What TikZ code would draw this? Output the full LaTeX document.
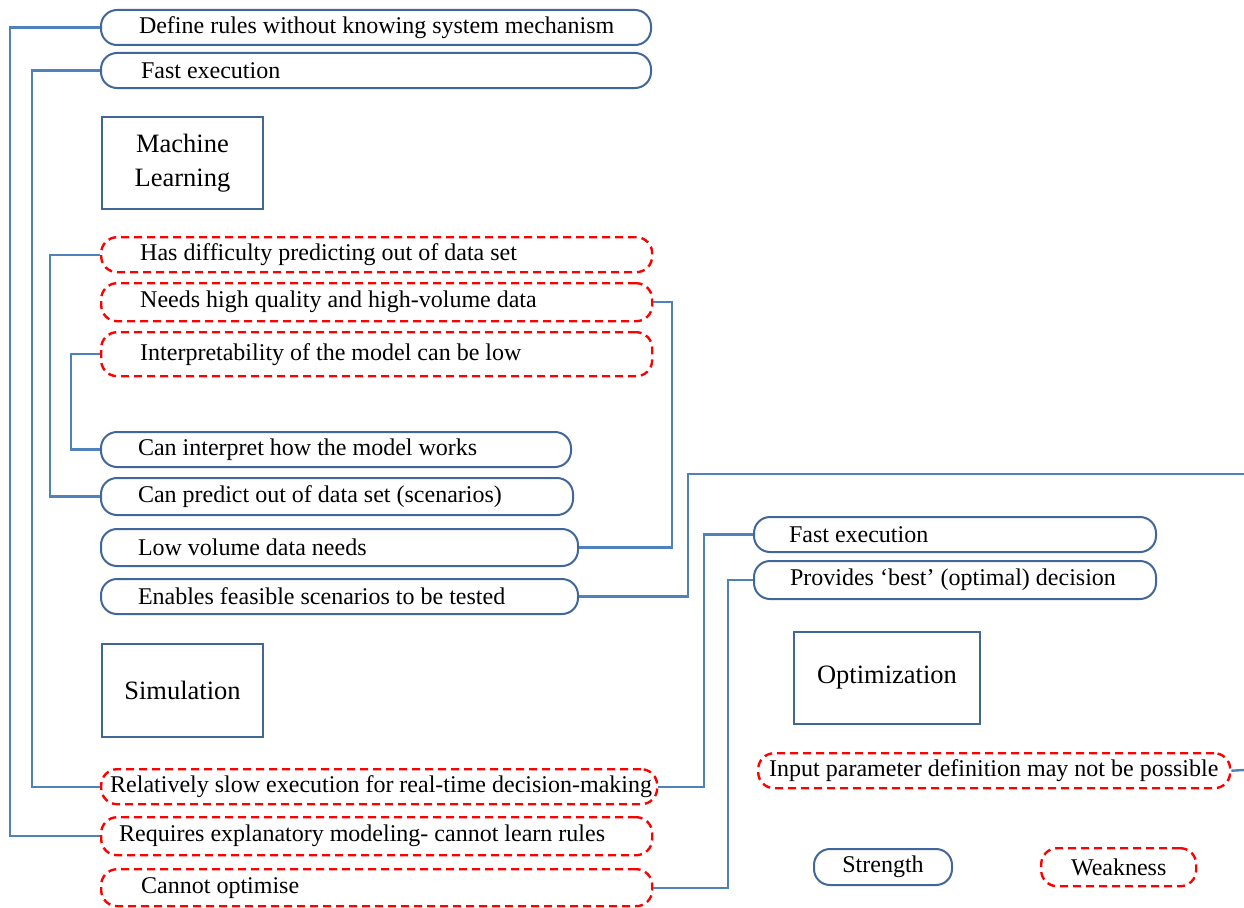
\documentclass[tikz,border=0pt]{standalone}
\usepackage{fontspec}
\setmainfont{Liberation Serif}
\definecolor{boxblue}{RGB}{65,102,154}
\definecolor{linkblue}{RGB}{79,129,189}
\definecolor{weakred}{RGB}{255,0,0}
\begin{document}
\begin{tikzpicture}[x=1pt,y=-1pt,
  strong/.style={draw=boxblue,line width=2pt,rounded corners=16pt,anchor=north west,inner ysep=0pt,font=\fontsize{24}{26}\selectfont},
  weak/.style={draw=weakred,line width=2.4pt,dash pattern=on 8pt off 5pt,rounded corners=16pt,anchor=north west,inner ysep=0pt,font=\fontsize{24}{26}\selectfont},
  head/.style={draw=boxblue,line width=2pt,anchor=north west,align=center,inner sep=0pt,font=\fontsize{26.5}{34}\selectfont},
  link/.style={draw=linkblue,line width=2.4pt}]
\useasboundingbox (0,0) rectangle (1244,907);
% Machine learning side
\node[strong,minimum width=550pt,minimum height=35pt,inner xsep=38pt] (def) at (100,9) {\makebox[474pt][l]{Define rules without knowing system mechanism}};
\node[strong,minimum width=550pt,minimum height=35pt,inner xsep=40pt] (fe1) at (100,52) {\makebox[470pt][l]{Fast execution}};
\node[head,minimum width=161pt,minimum height=92pt] (ml) at (101,116) {Machine\\Learning};
\node[weak,minimum width=551pt,minimum height=35pt,inner xsep=39pt] (hd) at (100,236) {\makebox[473pt][l]{Has difficulty predicting out of data set}};
\node[weak,minimum width=551pt,minimum height=38pt,inner xsep=39pt] (nh) at (100,282) {\makebox[473pt][l]{Needs high quality and high-volume data}};
\node[weak,minimum width=551pt,minimum height=44pt,inner xsep=39pt] (ip) at (100,331) {\makebox[473pt][l]{Interpretability of the model can be low}};
% Simulation side
\node[strong,minimum width=470pt,minimum height=35pt,inner xsep=37pt] (ci) at (100,431) {\makebox[396pt][l]{Can interpret how the model works}};
\node[strong,minimum width=472pt,minimum height=37pt,inner xsep=37pt] (cp) at (100,477) {\makebox[398pt][l]{Can predict out of data set (scenarios)}};
\node[strong,minimum width=477pt,minimum height=37pt,inner xsep=37pt] (lv) at (100,528) {\makebox[403pt][l]{\raisebox{-2pt}{Low volume data needs}}};
\node[strong,minimum width=477pt,minimum height=35pt,inner xsep=37pt] (ef) at (100,578) {\makebox[403pt][l]{\raisebox{-3pt}{Enables feasible scenarios to be tested}}};
\node[head,minimum width=161pt,minimum height=93pt] (sim) at (101,643) {Simulation};
\node[weak,minimum width=556pt,minimum height=35pt,inner xsep=9pt] (rs) at (100,768) {\makebox[538pt][l]{Relatively slow execution for real-time decision-making}};
\node[weak,minimum width=551pt,minimum height=38pt,inner xsep=18pt] (re) at (100,816) {\makebox[515pt][l]{Requires explanatory modeling- cannot learn rules}};
\node[weak,minimum width=551pt,minimum height=37pt,inner xsep=40pt] (co) at (100,868) {\makebox[471pt][l]{\raisebox{-2pt}{Cannot optimise}}};
% Optimization side
\node[strong,minimum width=402pt,minimum height=35pt,inner xsep=35pt] (fe2) at (753,516) {\makebox[332pt][l]{Fast execution}};
\node[strong,minimum width=402pt,minimum height=38pt,inner xsep=36pt] (pb) at (753,560) {\makebox[330pt][l]{Provides ‘best’ (optimal) decision}};
\node[head,minimum width=186pt,minimum height=92pt] (opt) at (793,631) {Optimization};
\node[weak,minimum width=472pt,minimum height=35pt,inner xsep=11pt] (ipd) at (757,752) {\makebox[450pt][l]{Input parameter definition may not be possible}};
% Legend
\node[strong,minimum width=138pt,minimum height=36pt,inner xsep=0pt] (str) at (813,848) {Strength};
\node[weak,minimum width=155pt,minimum height=38pt,inner xsep=0pt] (wk) at (1040,847) {Weakness};
% connectors
\coordinate (fend) at (1244,474);
\coordinate (iend) at (1244,770);
\draw[link] (def.west) -| (10,400) |- (re.west);
\draw[link] (fe1.west) -| (32,400) |- (rs.west);
\draw[link] (hd.west) -| (50,400) |- (cp.west);
\draw[link] (ip.west) -| (71,400) |- (ci.west);
\draw[link] (nh.east) -| (672,400) |- (lv.east);
\draw[link] (ef.east) -| (688,520) |- (fend);
\draw[link] (ipd.east) -- (iend);
\draw[link] (rs.east) -| (704,650) |- (fe2.west);
\draw[link] (co.east) -| (728,700) |- (pb.west);
\end{tikzpicture}
\end{document}
